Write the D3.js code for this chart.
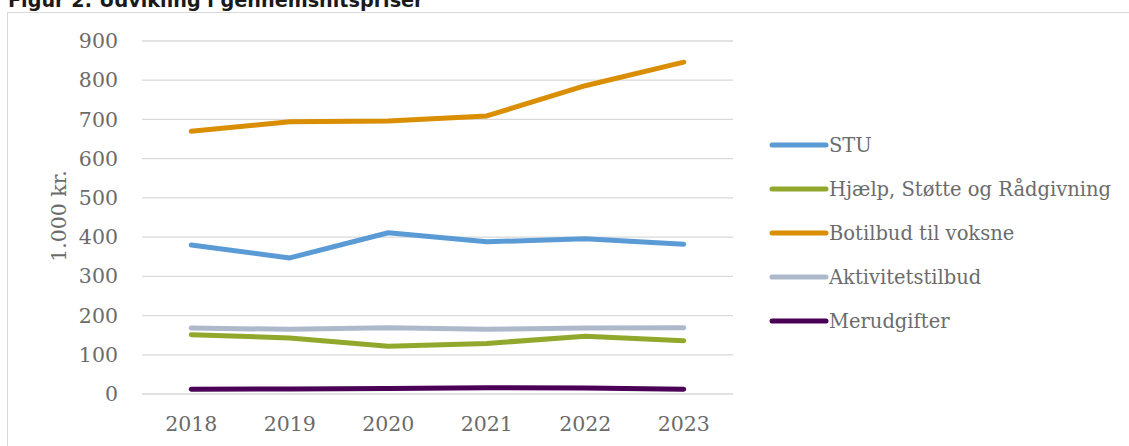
<html>
<head>
<meta charset="utf-8">
<script src="https://d3js.org/d3.v7.min.js"></script>
<style>
body { margin: 0; background: #fff; }
</style>
</head>
<body>
<svg id="page"></svg>
<script>
// data (1.000 kr.)
var years = ["2018", "2019", "2020", "2021", "2022", "2023"];
var seriesNames = ["STU", "Hjælp, Støtte og Rådgivning", "Botilbud til voksne", "Aktivitetstilbud", "Merudgifter"];
var stu = [380, 347, 411, 388, 396, 382];
var hjaelp = [151, 143, 122, 129, 147, 136];
var botilbud = [670, 694, 696, 709, 786, 846];
var aktivitet = [168, 165, 169, 165, 168, 169];
var merudgifter = [12, 13, 14, 16, 15, 12];
var yTicks = [0, 100, 200, 300, 400, 500, 600, 700, 800, 900];
var colors = ["#5b9bd5", "#92a82c", "#d98e04", "#adb9ca", "#4a0055"];

var allSeries = [stu, hjaelp, botilbud, aktivitet, merudgifter];

var W = 1129, H = 446;
var svg = d3.select("#page").attr("width", W).attr("height", H);

// title (top part is cut off in the source too)
svg.append("text")
	.attr("x", 8)
	.attr("y", 7)
	.style("font-family", "DejaVu Sans")
	.style("font-weight", "bold")
	.style("font-size", "19.2px")
	.attr("fill", "#1a1a1a")
	.text("Figur 2: Udvikling i gennemsnitspriser");

// chart frame
svg.append("rect")
	.attr("x", 7.5).attr("y", 12.5)
	.attr("width", 1130).attr("height", 450)
	.attr("fill", "none")
	.attr("stroke", "#d9d9d9");

var x = d3.scaleBand().domain(years).range([142, 733]);
var y = d3.scaleLinear().domain([0, 900]).range([394, 41]);

var labelFont = "DejaVu Serif";
var textColor = "#6b6b6b";

// grid
svg.append("g").selectAll("line").data(yTicks).enter().append("line")
	.attr("x1", 142).attr("x2", 733)
	.attr("y1", function(d){ return y(d); })
	.attr("y2", function(d){ return y(d); })
	.attr("stroke", "#d9d9d9")
	.attr("stroke-width", 1.3);

// y axis
var yAxis = svg.append("g")
	.attr("transform", "translate(118,0)")
	.call(d3.axisLeft(y).tickValues(yTicks).tickSize(0).tickPadding(0));
yAxis.select(".domain").remove();
yAxis.selectAll("text")
	.style("font-family", labelFont)
	.style("font-size", "20.5px")
	.attr("fill", textColor);

// x axis
var xAxis = svg.append("g")
	.attr("transform", "translate(0,394)")
	.call(d3.axisBottom(x).tickSize(0).tickPadding(22));
xAxis.select(".domain").remove();
xAxis.selectAll("text")
	.style("font-family", labelFont)
	.style("font-size", "20.5px")
	.attr("fill", textColor);

// y title
svg.append("text")
	.attr("transform", "translate(66,216) rotate(-90)")
	.style("font-family", labelFont)
	.style("font-size", "20.5px")
	.style("text-anchor", "middle")
	.attr("fill", textColor)
	.text("1.000 kr.");

// lines
var line = d3.line()
	.x(function(d, i){ return x(years[i]) + x.bandwidth() / 2; })
	.y(function(d){ return y(d); });

svg.append("g").selectAll("path").data(allSeries).enter().append("path")
	.attr("d", line)
	.attr("fill", "none")
	.attr("stroke", function(d, i){ return colors[i]; })
	.attr("stroke-width", 5)
	.attr("stroke-linecap", "round")
	.attr("stroke-linejoin", "round");

// legend
var legend = svg.append("g").selectAll("g").data(seriesNames).enter().append("g")
	.attr("transform", function(d, i){ return "translate(772," + (145 + i * 44) + ")"; });
legend.append("line")
	.attr("x1", 0).attr("x2", 54)
	.attr("stroke", function(d, i){ return colors[i]; })
	.attr("stroke-width", 5)
	.attr("stroke-linecap", "round");
legend.append("text")
	.attr("x", 57)
	.attr("dy", "0.35em")
	.style("font-family", labelFont)
	.style("font-size", "19.5px")
	.attr("fill", textColor)
	.text(function(d){ return d; });
</script>
</body>
</html>
